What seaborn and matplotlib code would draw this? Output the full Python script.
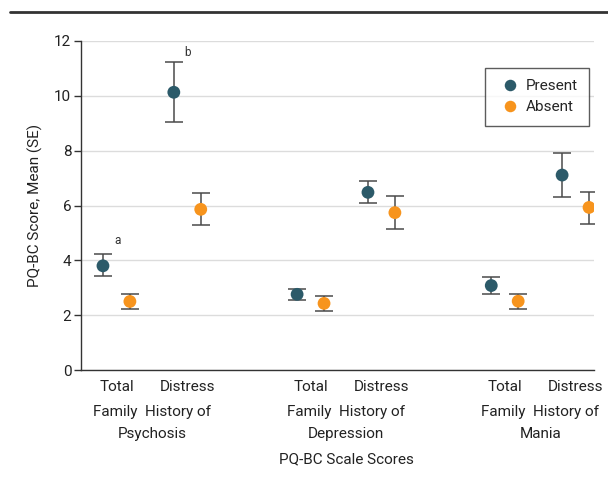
import numpy as np
import pandas as pd
import matplotlib
matplotlib.use("Agg")
import matplotlib.pyplot as plt
import seaborn as sns

# ---- data ----
conditions = ["Psychosis", "Depression", "Mania"]
scales = ["Total", "Distress"]
groups = ["Present", "Absent"]
present_mean = [3.80, 10.13, 2.76, 6.48, 3.08, 7.11]
present_lo = [3.42, 9.06, 2.55, 6.08, 2.77, 6.31]
present_hi = [4.24, 11.24, 2.97, 6.90, 3.38, 7.90]
absent_mean = [2.50, 5.86, 2.43, 5.74, 2.51, 5.93]
absent_lo = [2.22, 5.30, 2.15, 5.14, 2.24, 5.34]
absent_hi = [2.77, 6.47, 2.71, 6.35, 2.77, 6.50]
yticks = [0, 2, 4, 6, 8, 10, 12]

sns.set_theme(style="white")
plt.rcParams['font.family'] = ['Roboto', 'DejaVu Sans']

FS = 11
group_gap = 2.74
offset = 0.19
base = []
for gi, c in enumerate(conditions):
    for si, s in enumerate(scales):
        base.append(gi * group_gap + si)

rows = []
for i, b in enumerate(base):
    rows.append(dict(x=b - offset, mean=present_mean[i], lo=present_lo[i], hi=present_hi[i], group="Present"))
    rows.append(dict(x=b + offset, mean=absent_mean[i], lo=absent_lo[i], hi=absent_hi[i], group="Absent"))
df = pd.DataFrame(rows)

colors = {"Present": "#2C5A69", "Absent": "#F7941D"}

fig = plt.figure(figsize=(6.08, 4.87), dpi=100)
ax = fig.add_axes([81/608, 1-370/487, (594-81)/608, (370-41)/487])

for g in groups:
    d = df[df.group == g]
    ax.errorbar(d.x, d["mean"], yerr=[d["mean"] - d.lo, d.hi - d["mean"]], fmt="none",
                ecolor="#4a4a4a", elinewidth=1.1, capsize=6.5, capthick=1.1, zorder=2)
sns.scatterplot(data=df, x="x", y="mean", hue="group", palette=colors, s=85,
                edgecolor="none", ax=ax, zorder=3, legend=True)

ax.set_xlim(-0.50, 6.74)
ax.set_ylim(0, 12)
ax.set_yticks(yticks)
ax.set_yticklabels([str(t) for t in yticks], fontsize=FS, color="#222222")
ax.yaxis.grid(True, color="#dcdcdc", linewidth=1.0)
ax.set_axisbelow(True)
for sp in ["top", "right"]:
    ax.spines[sp].set_visible(False)
for sp in ["left", "bottom"]:
    ax.spines[sp].set_color("#333333")
    ax.spines[sp].set_linewidth(1.0)
ax.tick_params(axis="y", which="both", left=True, length=5, width=1, color="#333333", pad=2)
ax.tick_params(axis="x", bottom=False, pad=1)
ax.set_xticks(base)
ax.set_xticklabels(scales * 3, fontsize=FS, color="#222222")
ax.set_xlabel("")
ax.set_ylabel("PQ-BC Score, Mean (SE)", fontsize=FS, color="#222222", labelpad=8)

trans = matplotlib.transforms.blended_transform_factory(ax.transData, fig.transFigure)
for gi, c in enumerate(conditions):
    xc = gi * group_gap + 0.5
    ax.text(xc, 1-412/487, "Family  History of", transform=trans, ha="center", va="center",
            fontsize=FS, color="#222222")
    ax.text(xc, 1-434/487, c, transform=trans, ha="center", va="center",
            fontsize=FS, color="#222222")
ax.text(0.5 * (0.5 + 2 * group_gap + 0.5), 1-459/487, "PQ-BC Scale Scores", transform=trans,
        ha="center", va="center", fontsize=FS, color="#222222")

ax.text(base[0] - offset + 0.2, 4.6, "a", fontsize=8.5, color="#333333", ha="center")
ax.text(base[1] - offset + 0.2, 11.45, "b", fontsize=8.5, color="#333333", ha="center")

h, l = ax.get_legend_handles_labels()
leg = ax.legend(h, l, loc="upper right", bbox_to_anchor=((589-81)/(594-81), (370-68)/(370-41)),
                borderaxespad=0, frameon=True, fancybox=False, edgecolor="#333333", fontsize=FS,
                handletextpad=0.1, handlelength=1.8, borderpad=0.75, labelspacing=0.45,
                markerscale=0.9)
leg.get_frame().set_linewidth(1.0)

fig.add_artist(matplotlib.lines.Line2D([10/608, 1.0], [1-12/487, 1-12/487],
                                       color="#333333", linewidth=2.0, transform=fig.transFigure))

fig.savefig("out.png", dpi=100)
